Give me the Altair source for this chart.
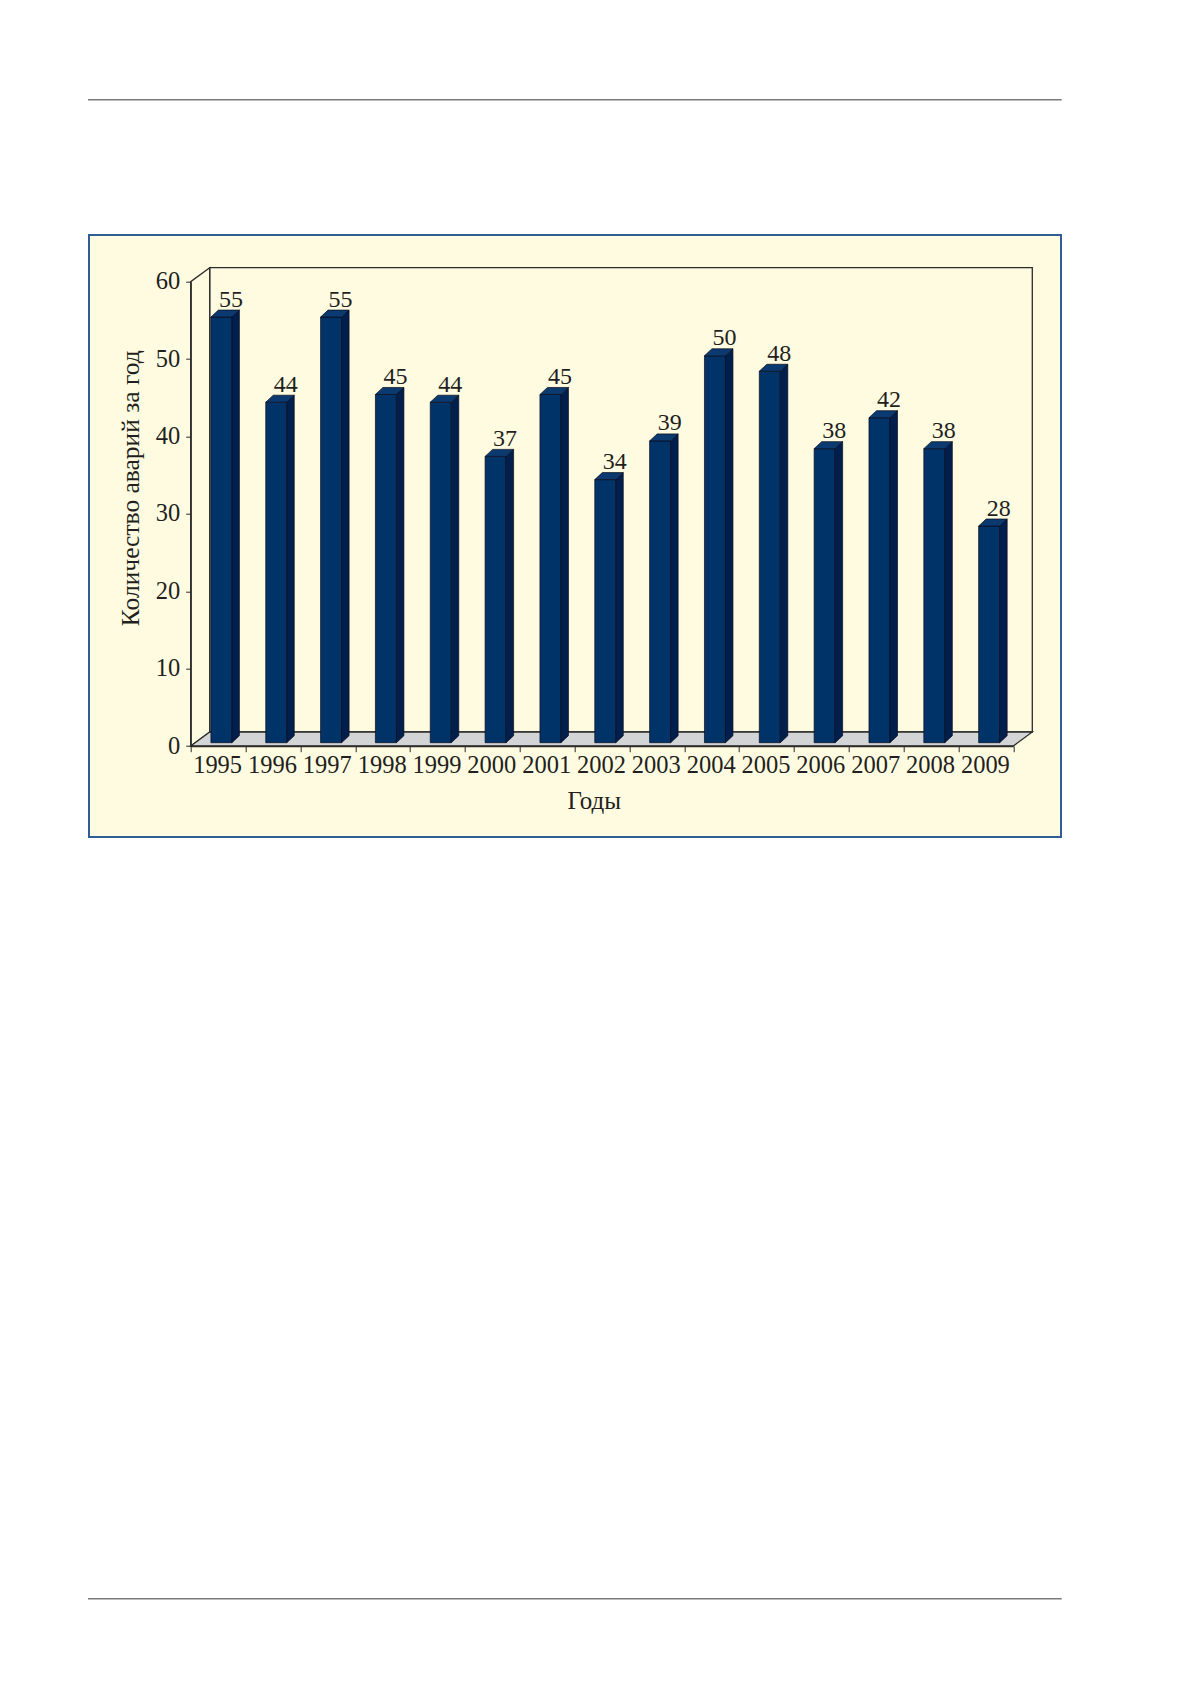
import altair as alt
import pandas as pd

# ---- data ----
years = ["1995", "1996", "1997", "1998", "1999", "2000", "2001", "2002",
         "2003", "2004", "2005", "2006", "2007", "2008", "2009"]
values = [55, 44, 55, 45, 44, 37, 45, 34, 39, 50, 48, 38, 42, 38, 28]
y_ticks = [0, 10, 20, 30, 40, 50, 60]
y_title = "Количество аварий за год"
x_title = "Годы"

# ---- layout (pixels) ----
W, H = 822.6, 464.3
N = len(years)
YMAX = 60
BX = W / N          # px per category
BY = H / YMAX       # px per unit
WALL_DX, WALL_DY = 19.0, 14.0     # depth of the back wall
BAR_FL, BAR_FW = 20.2, 21.0       # bar front face left offset / width
BAR_D, BAR_DD = 7.5, 7.0          # bar depth (x, y)
BAR_B = 3.3                       # bar plane lift

FONT = "Liberation Serif"
INK = "#231f20"
LINE = "#2b2b2b"
CREAM = "#fefbe1"

xs = alt.Scale(domain=[0, N], nice=False, zero=False)
ys = alt.Scale(domain=[0, YMAX], nice=False, zero=False)

# ---- derived frames ----
front_rows, side_rows, top_rows, lab_rows = [], [], [], []
for i, (yr, v) in enumerate(zip(years, values)):
    x0 = i + BAR_FL / BX
    x1 = i + (BAR_FL + BAR_FW) / BX
    y0 = BAR_B / BY
    y1 = v + BAR_B / BY
    dx = BAR_D / BX
    dy = BAR_DD / BY
    front_rows.append(dict(year=yr, x0=x0, x1=x1, y0=y0, y1=y1))
    side_rows.append(dict(year=yr, x=x1, y=y0, y2=y1))
    side_rows.append(dict(year=yr, x=x1 + dx, y=y0 + dy, y2=y1 + dy))
    top_rows.append(dict(year=yr, y=y1, x=x0, x2=x1))
    top_rows.append(dict(year=yr, y=y1 + dy, x=x0 + dx, x2=x1 + dx))
    lab_rows.append(dict(year=yr, value=v,
                         lx=i + (BAR_FL + BAR_FW / 2 + 9.5) / BX,
                         ly=y1 + 10.5 / BY))
front = pd.DataFrame(front_rows)
side = pd.DataFrame(side_rows)
top = pd.DataFrame(top_rows)
labs = pd.DataFrame(lab_rows)

wdx = WALL_DX / BX
wdy = WALL_DY / BY
back = pd.DataFrame([dict(x0=wdx, x1=N + wdx, y0=wdy, y1=YMAX + wdy)])
leftwall = pd.DataFrame([dict(k="l", x=0.0, y=0.0, y2=float(YMAX)),
                         dict(k="l", x=wdx, y=wdy, y2=YMAX + wdy)])
floor = pd.DataFrame([dict(k="f", y=0.0, x=0.0, x2=float(N)),
                      dict(k="f", y=wdy, x=wdx, x2=N + wdx)])

one = pd.DataFrame({"a": [0]})

# ---- decorations (page lines and frame), pixel positions relative to plot ----
frame = alt.Chart(one).mark_rect(fill=CREAM, stroke="#2f5d94", strokeWidth=2).encode(
    x=alt.value(89 - 190.7), x2=alt.value(1061 - 190.7),
    y=alt.value(235 - 281.7), y2=alt.value(837 - 281.7))
line_top = alt.Chart(one).mark_rule(color="#7a7a7a", strokeWidth=1.6).encode(
    x=alt.value(88 - 190.7), x2=alt.value(1061.7 - 190.7), y=alt.value(99.7 - 281.7))
line_bot = alt.Chart(one).mark_rule(color="#7a7a7a", strokeWidth=1.6).encode(
    x=alt.value(88 - 190.7), x2=alt.value(1061.7 - 190.7), y=alt.value(1598.7 - 281.7))

# ---- 3D box ----
back_l = alt.Chart(back).mark_rect(fill=CREAM, stroke=LINE, strokeWidth=1.3).encode(
    x=alt.X("x0:Q", scale=xs, axis=None), x2="x1",
    y=alt.Y("y0:Q", scale=ys, axis=None), y2="y1")
left_l = alt.Chart(leftwall).mark_area(orient="vertical", fill=CREAM, stroke=LINE,
                                       strokeWidth=1.3).encode(
    x=alt.X("x:Q", scale=xs, axis=None),
    y=alt.Y("y:Q", scale=ys, axis=None, stack=False), y2="y2", detail="k:N")
floor_l = alt.Chart(floor).mark_area(orient="horizontal", fill="#d3d4d6", stroke=LINE,
                                     strokeWidth=1.3).encode(
    y=alt.Y("y:Q", scale=ys, axis=None),
    x=alt.X("x:Q", scale=xs, axis=None, stack=False), x2="x2", detail="k:N")

# ---- bars ----
label_expr = "[" + ",".join("'%s'" % y for y in years) + "][datum.value] || ''"
front_l = alt.Chart(front).mark_rect(fill="#003468", stroke="#0a0a1a", strokeWidth=0.7).encode(
    x=alt.X("x0:Q", scale=xs, axis=alt.Axis(
        values=list(range(N + 1)), labelExpr=label_expr, grid=False,
        tickSize=5.7, tickColor=LINE, domainColor=LINE, domainWidth=1.3,
        labelFont=FONT, labelFontSize=24.5, labelColor=INK, labelOffset=BX / 2 - 1,
        labelBaseline="alphabetic", labelPadding=20.5, labelOverlap=False,
        labelFlush=False, labelBound=False, zindex=1,
        title=x_title, titleFont=FONT, titleFontSize=25, titleFontWeight="normal",
        titleColor=INK, titleX=403, titleY=62, titleAlign="center",
        titleBaseline="alphabetic")),
    x2="x1",
    y=alt.Y("y0:Q", scale=ys, axis=alt.Axis(
        values=y_ticks, grid=False, tickSize=5, tickColor=LINE, domainColor=LINE,
        domainWidth=1.3, labelFont=FONT, labelFontSize=24.5, labelColor=INK,
        labelPadding=6, zindex=1,
        title=y_title, titleFont=FONT, titleFontSize=25.5, titleFontWeight="normal",
        titleColor=INK, titleAngle=270, titleX=-60, titleY=206,
        titleAlign="center", titleBaseline="middle")),
    y2="y1")
side_l = alt.Chart(side).mark_area(orient="vertical", fill="#001f4d", stroke="#0a0a1a",
                                   strokeWidth=0.7).encode(
    x=alt.X("x:Q", scale=xs, axis=None),
    y=alt.Y("y:Q", scale=ys, axis=None, stack=False), y2="y2", detail="year:N")
top_l = alt.Chart(top).mark_area(orient="horizontal", fill="#0a3a70", stroke="#0a0a1a",
                                 strokeWidth=0.7).encode(
    y=alt.Y("y:Q", scale=ys, axis=None),
    x=alt.X("x:Q", scale=xs, axis=None, stack=False), x2="x2", detail="year:N")
text_l = alt.Chart(labs).mark_text(font=FONT, fontSize=24, color=INK, align="center",
                                   baseline="alphabetic").encode(
    x=alt.X("lx:Q", scale=xs, axis=None),
    y=alt.Y("ly:Q", scale=ys, axis=None),
    text="value:Q")

chart = alt.layer(
    line_top, line_bot, frame, back_l, left_l, floor_l, front_l, side_l, top_l, text_l
).resolve_axis(
    x="independent", y="independent"
).properties(
    width=W, height=H,
    autosize=alt.AutoSizeParams(type="none"),
    padding={"left": 182.7, "top": 273.7, "right": 150, "bottom": 900},
    background="white",
).configure_view(stroke="transparent")

chart.save("out.html", embed_options={"renderer": "svg", "actions": False})
